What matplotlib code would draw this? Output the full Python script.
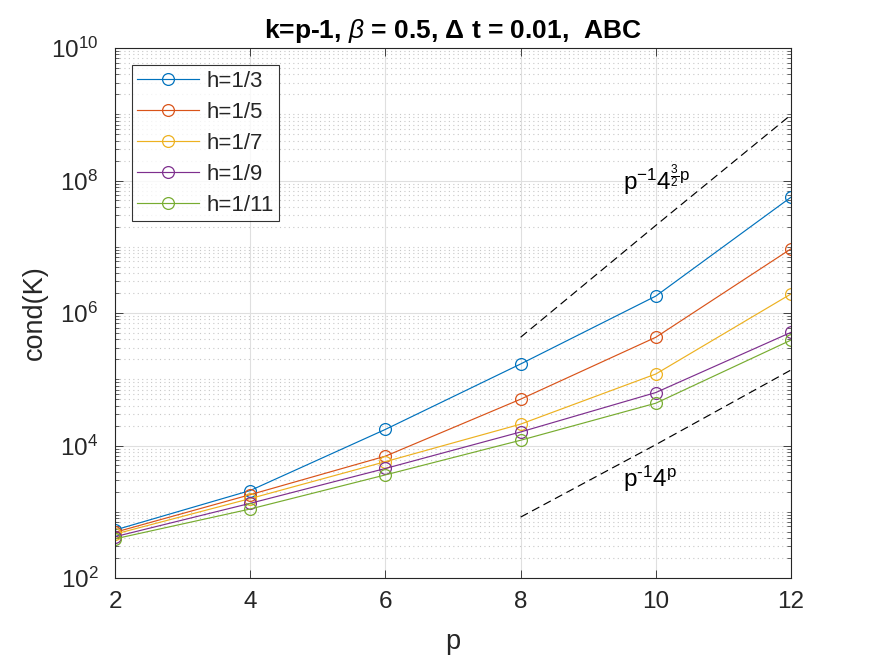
import numpy as np
import matplotlib
matplotlib.use("Agg")
import matplotlib.pyplot as plt
from matplotlib.ticker import FixedLocator, FuncFormatter, NullFormatter

plt.rcParams['font.family'] = ['Liberation Sans', 'DejaVu Sans']
plt.rcParams['mathtext.fontset'] = 'custom'
plt.rcParams['mathtext.rm'] = 'Liberation Sans'
plt.rcParams['mathtext.it'] = 'Liberation Sans:italic'
plt.rcParams['mathtext.bf'] = 'Liberation Sans:bold'

# ---- data ----
p = [2, 4, 6, 8, 10, 12]
labels = ['h=1/3', 'h=1/5', 'h=1/7', 'h=1/9', 'h=1/11']
cond_h3 = [530, 2090, 1.75e4, 1.7e5, 1.8e6, 5.6e7]
cond_h5 = [490, 1810, 6.9e3, 5.0e4, 4.3e5, 9.3e6]
cond_h7 = [460, 1580, 5.7e3, 2.1e4, 1.2e5, 1.94e6]
cond_h9 = [420, 1340, 4.5e3, 1.6e4, 6.3e4, 5.1e5]
cond_h11 = [390, 1100, 3.6e3, 1.2e4, 4.35e4, 3.9e5]
series = [cond_h3, cond_h5, cond_h7, cond_h9, cond_h11]

p_ref = [8, 10, 12]
ref_upper = [4.3e5, 2.1e7, 9.8e8]   # p^-1 4^(3p/2) reference (scaled)
ref_lower = [830, 1.03e4, 1.38e5]   # p^-1 4^p reference (scaled)

colors = ['#0072BD', '#D95319', '#EDB120', '#7E2F8E', '#77AC30']
axc = '#262626'

fig = plt.figure(figsize=(8.75, 6.56), dpi=100)
ax = fig.add_axes([115/875, 1-578/656, (791-115)/875, (578-48)/656])

for s, c, lab in zip(series, colors, labels):
    ax.plot(p, s, '-o', color=c, lw=0.85, mfc='none', mec=c, ms=8.5, mew=0.9, label=lab)

ax.plot(p_ref, ref_upper, '--', color='k', lw=0.85, dashes=(7, 4))
ax.plot(p_ref, ref_lower, '--', color='k', lw=0.85, dashes=(7, 4))

ax.set_yscale('log')
ax.set_xlim(2, 12)
ax.set_ylim(1e2, 1e10)
ax.set_xticks([2, 4, 6, 8, 10, 12])
ax.yaxis.set_major_locator(FixedLocator([10.0**k for k in range(2, 11, 2)]))
minors = [m * 10.0**k for k in range(2, 10) for m in range(1, 10)
          if not (m == 1 and k % 2 == 0)]
ax.yaxis.set_minor_locator(FixedLocator(minors))
ax.yaxis.set_major_formatter(FuncFormatter(lambda v, pos: r'$\mathregular{10^{%d}}$' % round(np.log10(v))))
ax.yaxis.set_minor_formatter(NullFormatter())

ax.grid(True, which='major', color='#DFDFDF', lw=0.8, ls='-')
ax.grid(True, which='minor', axis='y', color='#C8C8C8', lw=0.8, ls=(0, (1, 3)))
ax.set_axisbelow(True)

ax.tick_params(which='both', direction='in', top=True, right=True, colors=axc, labelsize=17.5)
ax.tick_params(which='major', length=6, width=0.6)
ax.tick_params(which='minor', length=3, width=0.5)
ax.tick_params(axis='x', pad=9)
ax.tick_params(axis='y', pad=12)
for sp in ax.spines.values():
    sp.set_color(axc)
    sp.set_linewidth(0.8)

ax.set_xlabel('p', fontsize=19.5, color=axc, labelpad=12)
ax.set_ylabel('cond(K)', fontsize=19.5, color=axc, labelpad=2)
ax.set_title(r'k=p-1, $\beta$ = 0.5, $\mathregular{\Delta}$ t = 0.01,  ABC',
             fontsize=19, fontweight='bold', color='k', pad=7)

ax.text(9.52, 10**7.857, r'$\mathregular{p^{-1}4^{\frac{3}{2}p}}$', fontsize=17.5,
        ha='left', va='baseline', color='k')
ax.text(9.515, 10**3.374, r'$\mathregular{p^{\text{-}1}4^{p}}$', fontsize=17.5,
        ha='left', va='baseline', color='k')

leg = ax.legend(loc='upper left', bbox_to_anchor=(16.7/676, 1-17/530), borderaxespad=0,
                fontsize=16, frameon=True, fancybox=False,
                edgecolor='k', handlelength=2.8, labelspacing=0.45,
                borderpad=0.25, handletextpad=0.3)
leg.get_frame().set_linewidth(0.8)
for t in leg.get_texts():
    t.set_color(axc)

fig.savefig('out.png', dpi=100, facecolor='white')
